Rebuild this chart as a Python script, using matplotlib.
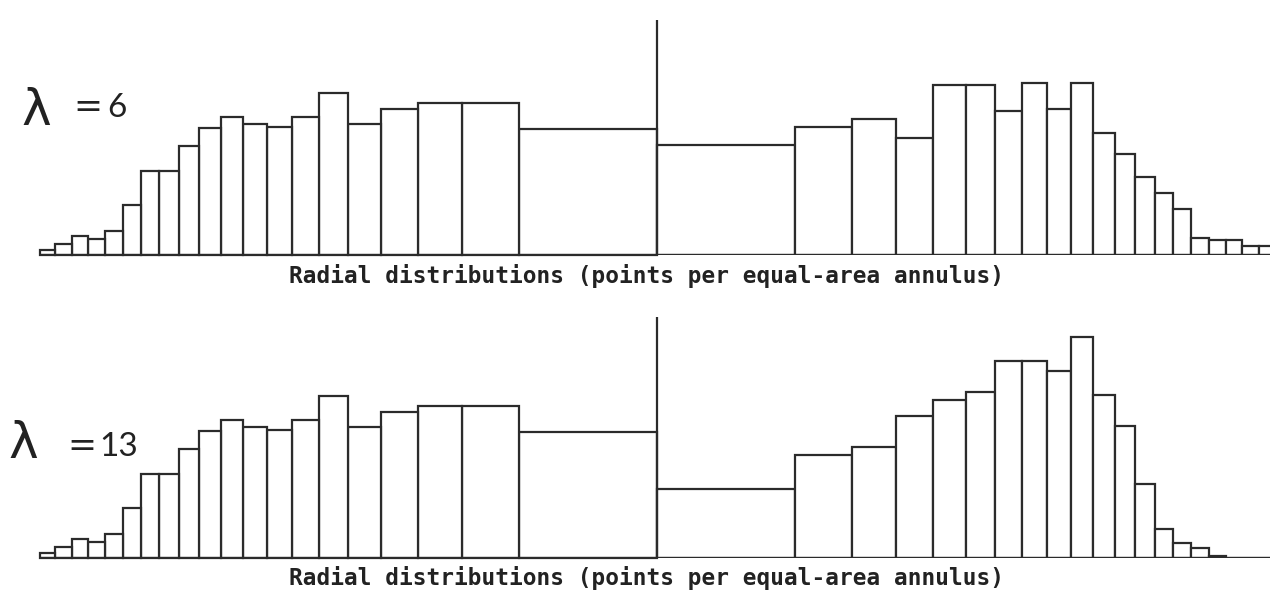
import numpy as np
import matplotlib
matplotlib.use("Agg")
import matplotlib.pyplot as plt

# Equal-area annulus index (k = 1 is the central annulus, k = 20 the outermost)
annulus = np.arange(1, 21)

# Left half (same in both panels), from centre outward
left_counts = [125.5, 152, 152, 146, 130.5, 162, 138, 128, 130.5, 138,
               127, 109, 84, 84, 49.5, 23.5, 15.5, 18.5, 11, 4.5]
# Right half, lambda = 6, from centre outward
right_counts_l6 = [109.5, 128, 135.5, 117, 170, 170, 144, 172, 145.5, 172,
                   122, 101, 78, 62, 46, 17, 14.5, 14.5, 9, 9]
# Right half, lambda = 13, from centre outward
right_counts_l13 = [68.4, 102.7, 110.4, 142, 157.7, 166, 197, 197, 186.7, 220.7,
                    163, 131.3, 73.3, 28.3, 15, 9.7, 1.7, 0, 0, 0]

panel_labels = ["6", "13"]
xlabel_text = "Radial distributions (points per equal-area annulus)"

W, H = 1270, 591
fig = plt.figure(figsize=(W / 100, H / 100), dpi=100)

unit_px = 138.0
center_px = 657.0
xlim = (-center_px / unit_px, (W - center_px) / unit_px)

edges = np.sqrt(np.concatenate([[0], annulus]))  # equal-area radii
inner = edges[:-1]
outer = edges[1:]
widths = outer - inner

col = "#2b2b2b"
lw = 1.6

# (baseline px from top, top px from top)
panels = [(254.5, 20.0, right_counts_l6), (557.7, 317.0, right_counts_l13)]

for (base_px, top_px, right_counts) in panels:
    ax = fig.add_axes([0, (H - base_px) / H, 1, (base_px - top_px) / H])
    ax.set_xlim(*xlim)
    ax.set_ylim(0, base_px - top_px)
    ax.axis("off")
    # left half (mirrored)
    ax.bar(-outer, left_counts, width=widths, align="edge",
           facecolor="white", edgecolor=col, linewidth=lw, clip_on=False)
    # right half
    ax.bar(inner, right_counts, width=widths, align="edge",
           facecolor="white", edgecolor=col, linewidth=lw)
    ax.hlines(0, -edges[-1], xlim[1], color=col, linewidth=lw)
    ax.axvline(0, 0, 1, color=col, linewidth=lw)

# axis captions
for base_px in (283.0, 585.0):
    fig.text(646.5 / W, (H - base_px) / H, xlabel_text, ha="center", va="baseline",
             family="DejaVu Sans Mono", fontweight="bold", fontsize=16.4, color="#222222")

# lambda labels: (lambda x, baseline), (equals x, baseline), (number x, baseline)
lam_pos = [((21, 125), (73, 117), (107, 117)), ((8, 458), (67, 456), (99, 456))]
for lab, ((lx, ly), (ex, ey), (nx, ny)) in zip(panel_labels, lam_pos):
    fig.text(lx / W, (H - ly) / H, "λ", ha="left", va="baseline",
             family="DejaVu Sans", fontsize=36, color="#222222")
    fig.text(ex / W, (H - ey) / H, "=", ha="left", va="baseline",
             family="DejaVu Sans", fontsize=25, color="#222222")
    fig.text(nx / W, (H - ny) / H, lab, ha="left", va="baseline",
             family="Lato", fontsize=24, color="#222222")

fig.savefig("out.png", dpi=100, facecolor="white")
